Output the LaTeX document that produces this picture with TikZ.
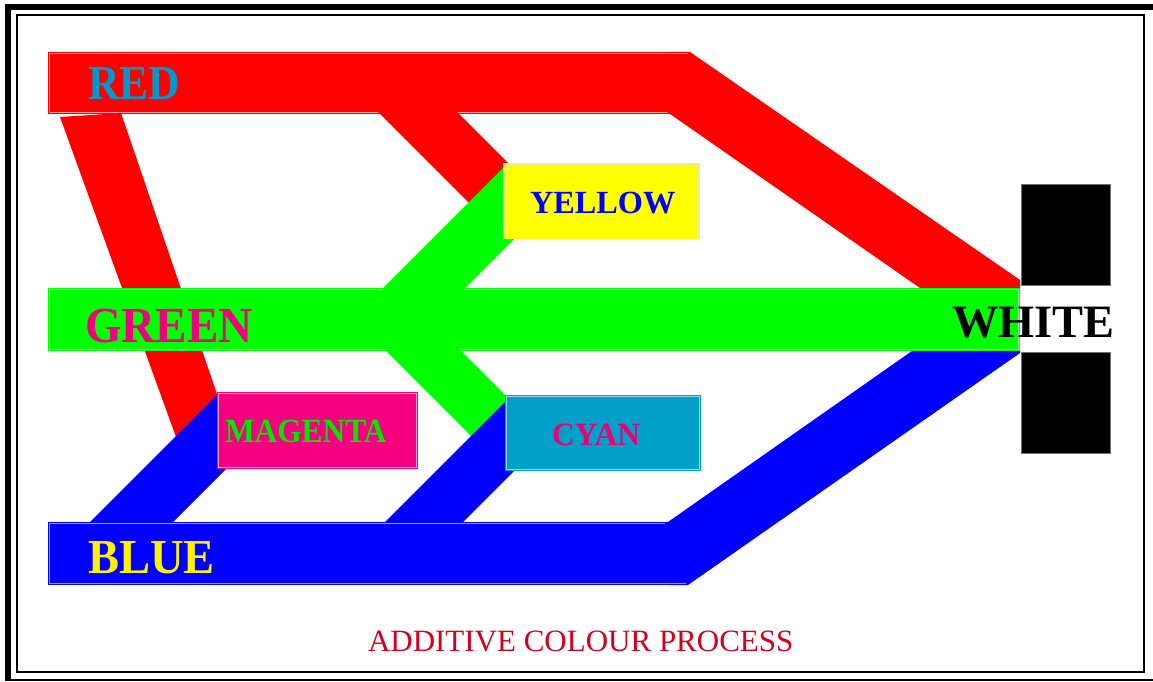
\documentclass[tikz,border=0pt]{standalone}
\usepackage{graphicx}
\usepackage{fontspec}
\setmainfont{Liberation Serif}

\definecolor{bandred}{HTML}{FF0000}
\definecolor{bandgreen}{HTML}{00FF00}
\definecolor{bandblue}{HTML}{0000FF}
\definecolor{boxyellow}{HTML}{FFFF00}
\definecolor{boxmagenta}{HTML}{F5007F}
\definecolor{boxcyan}{HTML}{00A0C8}
\definecolor{txtred}{HTML}{0099CC}
\definecolor{txtgreen}{HTML}{F0007F}
\definecolor{txtmagenta}{HTML}{00E800}
\definecolor{txtcyan}{HTML}{E8007A}
\definecolor{txtcaption}{HTML}{D2001E}

% bold label: size, vertical stretch, text
\newcommand\colourlabel[3]{\scalebox{1}[#2]{\fontsize{#1}{#1}\selectfont\bfseries #3}}

\begin{document}
\begin{tikzpicture}[x=1pt,y=-1pt,
  rim/.style={draw=#1!40!white, line width=0.9},
  lbl/.style={anchor=base west, inner sep=0pt, outer sep=0pt},
  colourbox/.style={anchor=north west, inner sep=0pt, outer sep=0pt, draw=none},
  blackbox/.style={anchor=north west, inner sep=0pt, fill=black, draw=black!55, line width=1,
    minimum width=89pt, minimum height=101pt}]
\useasboundingbox (0,0) rectangle (1153,682);

% frame
\fill[black] (5,4) rectangle (11,681);
\fill[black] (5,4) rectangle (1153,10);
\draw[black, line width=2.5] (5,680) -- (1153,680);
\draw[black, line width=2] (17,15) rectangle (1144,672);

% ---- red ----
\fill[bandred] (48,52) rectangle (690,114);
\fill[bandred] (670,52) -- (690,52) -- (1020,280) -- (1020,288) -- (920,288) -- (670,114) -- cycle;
\draw[rim=bandred] (688,53.5) -- (49.5,53.5) -- (49.5,112.5) -- (668,112.5);
% leg down to magenta
\fill[bandred] (60,117) -- (121,113) -- (219,400) -- (219,425) -- (176,437) -- cycle;
% branch to yellow
\fill[bandred] (376,110) -- (455,110) -- (508,163) -- (508,195) -- (469,203) -- cycle;

% ---- green ----
\fill[bandgreen] (48,288) rectangle (1020,351);
\draw[rim=bandgreen] (49.5,289.5) rectangle (1018.5,349.5);
% branch up to yellow
\fill[bandgreen] (379,292) -- (461,292) -- (515,238) -- (515,166) -- (505,166) -- cycle;
% branch down to cyan
\fill[bandgreen] (382,347) -- (457,347) -- (508,398) -- (508,420) -- (472,437) -- cycle;

% ---- blue ----
\fill[bandblue] (48,522) rectangle (688,585);
\fill[bandblue] (668,522) -- (912,351) -- (1020,351) -- (1020,353) -- (688,585) -- (668,585) -- cycle;
\draw[rim=bandblue] (665,523.5) -- (49.5,523.5) -- (49.5,583.5) -- (686,583.5);
% branch up to magenta
\fill[bandblue] (90,522) -- (173,522) -- (228,467) -- (228,395) -- (217,395) -- cycle;
% branch up to cyan
\fill[bandblue] (385,522) -- (463,522) -- (515,470) -- (515,398) -- (509,398) -- cycle;

% ---- secondary colour boxes ----
\node[colourbox, fill=boxyellow, minimum width=197pt, minimum height=76pt] (yellowbox) at (503,163) {};
\draw[rim=boxyellow!80!black] (504.5,164.5) rectangle (698.5,237.5);
\node[colourbox, fill=boxmagenta, minimum width=201pt, minimum height=77pt] (magentabox) at (217,392) {};
\draw[rim=boxmagenta] (218.5,393.5) rectangle (416.5,467.5);
\node[colourbox, fill=boxcyan, minimum width=196pt, minimum height=76pt] (cyanbox) at (505,395) {};
\draw[rim=boxcyan] (506.5,396.5) rectangle (699.5,469.5);

% ---- white ----
\node[blackbox] (whitetop) at (1021,184) {};
\node[blackbox] (whitebottom) at (1021,352) {};

% ---- labels ----
\node[lbl, text=txtred] (redlbl) at (88,100) {\colourlabel{43.6}{1.12}{RED}};
\node[lbl, text=txtgreen] (greenlbl) at (85,342) {\colourlabel{47.2}{1.07}{GREEN}};
\node[lbl, text=yellow] (bluelbl) at (88,573) {\colourlabel{46.6}{1.05}{BLUE}};
\node[lbl, text=black] (whitelbl) at (952,337) {\colourlabel{46.4}{1.0}{WHITE}};
\node[lbl, text=bandblue] (yellowlbl) at (530,213) {\colourlabel{32.3}{1.0}{YELLOW}};
\node[lbl, text=txtmagenta] (magentalbl) at (225,442) {\colourlabel{31.4}{1.08}{MAGENTA}};
\node[lbl, text=txtcyan] (cyanlbl) at (552,445) {\colourlabel{31.5}{1.03}{CYAN}};

\node[lbl, text=txtcaption] (caption) at (368,651) {\fontsize{31}{31}\selectfont ADDITIVE COLOUR PROCESS};
\end{tikzpicture}
\end{document}
